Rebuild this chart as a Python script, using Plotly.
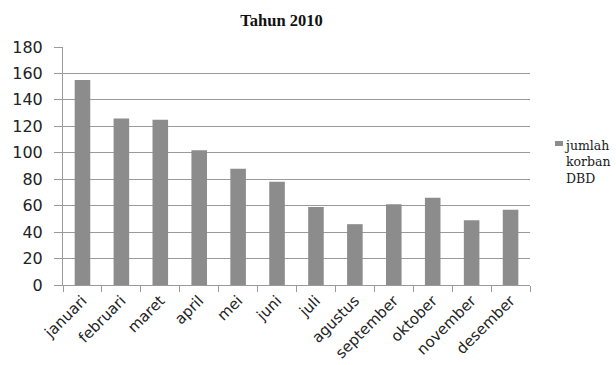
import plotly.graph_objects as go

bulan = ["januari", "februari", "maret", "april", "mei", "juni", "juli",
         "agustus", "september", "oktober", "november", "desember"]
jumlah_korban = [155, 126, 125, 102, 88, 78, 59, 46, 61, 66, 49, 57]
y_ticks = [0, 20, 40, 60, 80, 100, 120, 140, 160, 180]
legend_lines = ["jumlah", "korban", "DBD"]

bar_color = "#8c8c8c"
grid_color = "#9a9a9a"

W, H = 616, 365
L, R, T, B = 63, 86, 47, 80
plot_w, plot_h = W - L - R, H - T - B


def px_x(x):
    # horizontal pixel -> paper fraction of the plot area
    return (x - L) / plot_w


def px_y(y):
    # vertical pixel (from top) -> paper fraction of the plot area
    return (H - B - y) / plot_h


fig = go.Figure()
fig.add_trace(go.Bar(
    x=bulan,
    y=jumlah_korban,
    name="jumlah korban DBD",
    marker=dict(color=bar_color, line=dict(width=0)),
    showlegend=False,
))

# legend key drawn beside the plot: a small swatch and the wrapped series name
fig.add_shape(
    type="rect", xref="paper", yref="paper",
    x0=px_x(555), x1=px_x(563), y0=px_y(146), y1=px_y(141),
    fillcolor=bar_color, line=dict(width=0),
)
fig.add_annotation(
    text="<br>".join(legend_lines), xref="paper", yref="paper",
    x=px_x(562), y=px_y(135.5),
    xanchor="left", yanchor="top", align="left", showarrow=False,
    font=dict(family="DejaVu Serif", size=12.5, color="#1a1a1a"),
)

fig.update_layout(
    width=W,
    height=H,
    margin=dict(l=L, r=R, t=T, b=B, autoexpand=False),
    paper_bgcolor="white",
    plot_bgcolor="white",
    bargap=0.6,
    title=dict(
        text="<b>Tahun 2010</b>",
        x=281.5 / W,
        xanchor="center",
        y=1 - 20 / H,
        yanchor="middle",
        font=dict(family="Liberation Serif", size=16.5, color="#111"),
    ),
    showlegend=False,
    font=dict(family="DejaVu Sans", color="#222"),
)

fig.update_xaxes(
    automargin=False,
    tickangle=-45,
    tickfont=dict(family="DejaVu Sans", size=15, color="#222"),
    showline=True,
    linecolor=grid_color,
    linewidth=1,
    ticks="outside",
    tickson="boundaries",
    ticklen=6,
    tickcolor=grid_color,
    showgrid=False,
)
fig.update_yaxes(
    automargin=False,
    range=[0, 180],
    tickvals=y_ticks,
    tickfont=dict(family="DejaVu Sans", size=16, color="#222"),
    showline=True,
    linecolor=grid_color,
    linewidth=1,
    ticks="outside",
    ticklen=8,
    ticklabelstandoff=8,
    tickcolor=grid_color,
    showgrid=True,
    gridcolor=grid_color,
    gridwidth=1,
    zeroline=False,
)

fig.write_html("out.html")
